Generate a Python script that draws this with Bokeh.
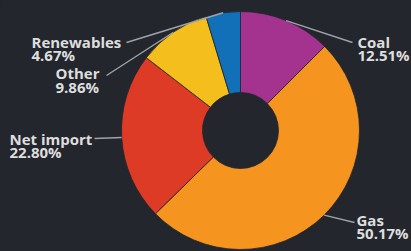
import math
from bokeh.plotting import figure
from bokeh.models import Range1d
from bokeh.core.properties import value
from bokeh.embed import file_html
from bokeh.resources import INLINE
from jinja2 import Template

# ---- data ----
labels = ["Coal", "Gas", "Net import", "Other", "Renewables"]
shares = [12.51, 50.17, 22.80, 9.86, 4.67]
colors = ["#a3338e", "#f5951f", "#de3b27", "#f4bf1c", "#1170b7"]

# ---- layout / style ----
W, H = 411, 251
BG = "#23262d"
CX, CY = 240, 130          # donut centre (pixels from top-left)
R_OUT, R_IN = 119, 38
TXT = "#dedede"
LEAD = "#9ea3aa"
FONT = value("Open Sans")
FS = "15px"

# label anchor (x, y of line middles), leader end point
label_layout = {
    "Coal": dict(x=357, y1=41, y2=54, lx=352, ly=42),
    "Gas": dict(x=356, y1=219, y2=232, lx=354, ly=222),
    "Net import": dict(x=9, y1=138, y2=151, lx=94, ly=138),
    "Other": dict(x=55, y1=72, y2=86, lx=106, ly=75),
    "Renewables": dict(x=31, y1=41, y2=54, lx=126, ly=42),
}

def Y(py):
    return H - py

p = figure(width=W, height=H, output_backend="svg", toolbar_location=None,
           x_range=Range1d(0, W), y_range=Range1d(0, H), min_border=0)
p.axis.visible = False
p.grid.visible = False
p.outline_line_color = None
p.background_fill_color = BG
p.border_fill_color = BG

total = sum(shares)
starts, ends, mids = [], [], []
cum = 0.0
for v in shares:
    a0 = math.pi / 2 - 2 * math.pi * cum / total
    cum += v
    a1 = math.pi / 2 - 2 * math.pi * cum / total
    starts.append(a0)
    ends.append(a1)
    mids.append((a0 + a1) / 2)

p.annular_wedge(x=[CX] * len(shares), y=[Y(CY)] * len(shares),
                inner_radius=R_IN, outer_radius=R_OUT,
                start_angle=starts, end_angle=ends, direction="clock",
                fill_color=colors, line_color=BG, line_width=0.8)

for lab, v, m in zip(labels, shares, mids):
    L = label_layout[lab]
    sx = CX + R_OUT * math.cos(m)
    sy = Y(CY) + R_OUT * math.sin(m)
    p.line([sx, L["lx"]], [sy, Y(L["ly"])], line_color=LEAD, line_width=1.4)
    p.text(x=[L["x"]], y=[Y(L["y1"])], text=[lab], text_font=FONT,
           text_font_size=FS, text_font_style="bold", text_color=TXT,
           text_baseline="middle", text_align="left")
    p.text(x=[L["x"]], y=[Y(L["y2"])], text=[f"{v:.2f}%"], text_font=FONT,
           text_font_size=FS, text_font_style="bold", text_color=TXT,
           text_baseline="middle", text_align="left")

tmpl = Template("""{% extends base %}
{% block preamble %}<style>html,body{margin:0;padding:0;background:#23262d;overflow:hidden;}</style>{% endblock %}""")

open("out.html", "w").write(file_html(p, INLINE, template=tmpl))
